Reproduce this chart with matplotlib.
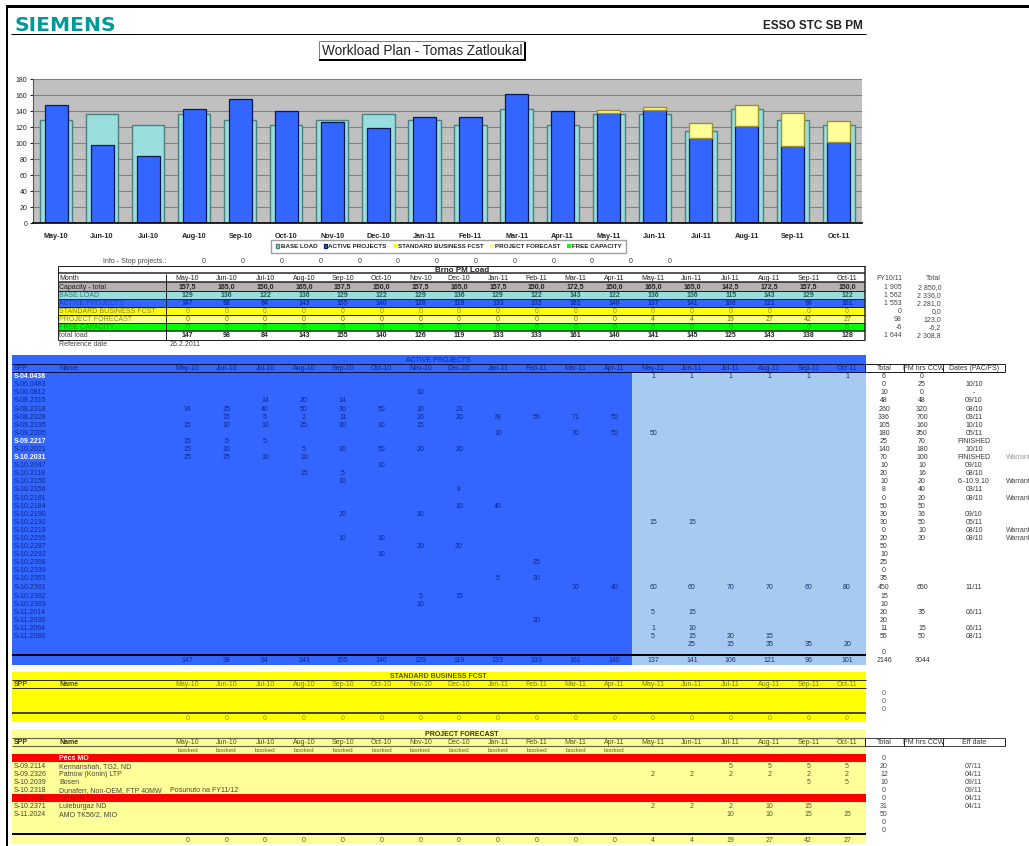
import matplotlib
matplotlib.use('Agg')
import matplotlib.pyplot as plt
from matplotlib.patches import Rectangle

plt.rcParams['font.family'] = ['Liberation Sans', 'DejaVu Sans']

## Data
months = ['May-10', 'Jun-10', 'Jul-10', 'Aug-10', 'Sep-10', 'Oct-10', 'Nov-10', 'Dec-10', 'Jan-11',
          'Feb-11', 'Mar-11', 'Apr-11', 'May-11', 'Jun-11', 'Jul-11', 'Aug-11', 'Sep-11', 'Oct-11']
capacity = ['157,5', '165,0', '150,0', '165,0', '157,5', '150,0', '157,5', '165,0', '157,5',
            '150,0', '172,5', '150,0', '165,0', '165,0', '142,5', '172,5', '157,5', '150,0']
base_load = [129, 136, 122, 136, 129, 122, 129, 136, 129, 122, 143, 122, 136, 136, 115, 143, 129, 122]
active_projects = [147, 98, 84, 143, 155, 140, 126, 119, 133, 133, 161, 140, 137, 141, 106, 121, 96, 101]
standard_fcst = [0] * 18
project_forecast = [0, 0, 0, 0, 0, 0, 0, 0, 0, 0, 0, 0, 4, 4, 19, 27, 42, 27]
free_capacity = [0, 0, 0, 0, 0, 0, 0, 0, 0, 0, 0, 0, 0, 0, 0, -6, 0, 0]
total_load = [147, 98, 84, 143, 155, 140, 126, 119, 133, 133, 161, 140, 141, 145, 125, 143, 138, 128]

fy_column = ['FY10/11', '1 905', '1 562', '1 553', '0', '98', '-6', '1 644']
total_column = ['Total', '2 850,0', '2 336,0', '2 281,0', '0,0', '123,0', '-6,2', '2 308,8']

active_spp = ['S-04.0438', 'S-06.0483', 'S-06.0812', 'S-08.2315', 'S-08.2318', 'S-08.2328', 'S-09.2195',
              'S-09.2205', 'S-09.2217', 'S-10.2021', 'S-10.2031', 'S-10.2047', 'S-10.2118', 'S-10.2150',
              'S-10.2156', 'S-10.2161', 'S-10.2184', 'S-10.2190', 'S-10.2192', 'S-10.2219', 'S-10.2255',
              'S-10.2287', 'S-10.2292', 'S-10.2308', 'S-10.2339', 'S-10.2353', 'S-10.2361', 'S-10.2362',
              'S-10.2363', 'S-11.2014', 'S-11.2036', 'S-11.2064', 'S-11.2086']
white_spp = ['S-04.0438', 'S-09.2217', 'S-10.2031']

_ = None
active_cells = [
    [_, _, _, _, _, _, _, _, _, _, _, _, 1, 1, 1, 1, 1, 1],
    [_] * 18,
    [_, _, _, _, _, _, 10, _, _, _, _, _, _, _, _, _, _, _],
    [_, _, 14, 20, 14, _, _, _, _, _, _, _, _, _, _, _, _, _],
    [34, 25, 40, 50, 30, 50, 10, 21, _, _, _, _, _, _, _, _, _, _],
    [_, 15, 5, 2, 11, _, 26, 20, 78, 56, 71, 50, _, _, _, _, _, _],
    [15, 10, 10, 25, 20, 10, 15, _, _, _, _, _, _, _, _, _, _, _],
    [_, _, _, _, _, _, _, _, 10, _, 70, 50, 50, _, _, _, _, _],
    [15, 5, 5, _, _, _, _, _, _, _, _, _, _, _, _, _, _, _],
    [15, 10, _, 5, 20, 50, 20, 20, _, _, _, _, _, _, _, _, _, _],
    [25, 25, 10, 10, _, _, _, _, _, _, _, _, _, _, _, _, _, _],
    [_, _, _, _, _, 10, _, _, _, _, _, _, _, _, _, _, _, _],
    [_, _, _, 15, 5, _, _, _, _, _, _, _, _, _, _, _, _, _],
    [_, _, _, _, 10, _, _, _, _, _, _, _, _, _, _, _, _, _],
    [_, _, _, _, _, _, _, 8, _, _, _, _, _, _, _, _, _, _],
    [_] * 18,
    [_, _, _, _, _, _, _, 10, 40, _, _, _, _, _, _, _, _, _],
    [_, _, _, _, 20, _, 10, _, _, _, _, _, _, _, _, _, _, _],
    [_, _, _, _, _, _, _, _, _, _, _, _, 15, 15, _, _, _, _],
    [_] * 18,
    [_, _, _, _, 10, 10, _, _, _, _, _, _, _, _, _, _, _, _],
    [_, _, _, _, _, _, 20, 30, _, _, _, _, _, _, _, _, _, _],
    [_, _, _, _, _, 10, _, _, _, _, _, _, _, _, _, _, _, _],
    [_, _, _, _, _, _, _, _, _, 25, _, _, _, _, _, _, _, _],
    [_] * 18,
    [_, _, _, _, _, _, _, _, 5, 30, _, _, _, _, _, _, _, _],
    [_, _, _, _, _, _, _, _, _, _, 10, 40, 60, 60, 70, 70, 60, 80],
    [_, _, _, _, _, _, 5, 15, _, _, _, _, _, _, _, _, _, _],
    [_, _, _, _, _, _, 10, _, _, _, _, _, _, _, _, _, _, _],
    [_, _, _, _, _, _, _, _, _, _, _, _, 5, 15, _, _, _, _],
    [_, _, _, _, _, _, _, _, _, 20, _, _, _, _, _, _, _, _],
    [_, _, _, _, _, _, _, _, _, _, _, _, 1, 10, _, _, _, _],
    [_, _, _, _, _, _, _, _, _, _, _, _, 5, 15, 20, 15, _, _],
    [_, _, _, _, _, _, _, _, _, _, _, _, _, 25, 15, 35, 35, 20],
]
active_total = [6, 0, 10, 48, 260, 336, 105, 180, 25, 140, 70, 10, 20, 10, 8, 0, 50, 30, 30, 0, 20,
                50, 10, 25, 0, 35, 450, 15, 10, 20, 20, 11, 55, _, 0]
active_pm_hours = [0, 25, 0, 48, 320, 700, 160, 350, 70, 180, 100, 10, 16, 20, 40, 20, 50, 36, 50, 10, 30,
                   _, _, _, _, _, 650, _, _, 35, _, 15, 50, _, _]
active_dates = [_, '10/10', '-', '09/10', '08/10', '03/11', '10/10', '05/11', 'FINISHED', '10/10', 'FINISHED',
                '09/10', '08/10', '6.-10.9.10', '03/11', '08/10', _, '09/10', '05/11', '08/10', '08/10',
                _, _, _, _, _, '11/11', _, _, '06/11', _, '06/11', '08/11', _, _]
warranty_spp = ['S-10.2031', 'S-10.2150', 'S-10.2161', 'S-10.2219', 'S-10.2255']

forecast_spp = ['S-09.2114', 'S-09.2326', 'S-10.2039', 'S-10.2318', 'S-10.2348', 'S-10.2371', 'S-11.2024']
forecast_names = ['Kermanshah, TG2, ND', 'Patnow (Konin) LTP', 'Bosen', 'Dunaferr, Non-OEM, FTP 40MW',
                  'Celsana LTP', 'Luleburgaz ND', 'AMO TK56/2, MIO']
forecast_cells = [
    [_, _, _, _, _, _, _, _, _, _, _, _, _, _, 5, 5, 5, 5],
    [_, _, _, _, _, _, _, _, _, _, _, _, 2, 2, 2, 2, 2, 2],
    [_, _, _, _, _, _, _, _, _, _, _, _, _, _, _, _, 5, 5],
    [_] * 18,
    [_] * 18,
    [_, _, _, _, _, _, _, _, _, _, _, _, 2, 2, 2, 10, 15, _],
    [_, _, _, _, _, _, _, _, _, _, _, _, _, _, 10, 10, 15, 15],
]
forecast_total = [0, 20, 12, 10, 0, 0, 31, 50, 0, 0]
forecast_dates = ['07/11', '04/11', '09/11', '09/11', '04/11', '04/11']

## Colors
BLUE = '#3366FF'
LIGHT_BLUE = '#A6CAF0'
TEAL = '#99DDDD'
YELLOW = '#FFFF00'
PALE = '#FFFF99'
RED = '#FF0000'
GREEN = '#00FF00'
GRAY = '#C0C0C0'
FS = 5

fig = plt.figure(figsize=(10.29, 8.46), dpi=100, facecolor='white')

# pixel canvas for everything that is a spreadsheet, y goes down
page = fig.add_axes([0, 0, 1, 1])
page.set_xlim(0, 1029)
page.set_ylim(846, 0)
page.axis('off')


def month_x(i):
    return 187.5 + 38.8 * i


def put(x, y, s, ha='center', color='#222222', size=FS, weight='normal', family=None):
    page.text(x, y + 0.7, str(s), ha=ha, va='center', color=color, fontsize=size, fontweight=weight, family=family)


def fill(x0, y0, x1, y1, color):
    page.add_patch(Rectangle((x0, y0), x1 - x0, y1 - y0, facecolor=color, edgecolor='none'))


def hline(y, x0=12, x1=866, px=1, color='#222222'):
    page.plot([x0, x1], [y, y], color=color, lw=px * 0.72, solid_capstyle='butt')


def vline(x, y0, y1, px=1, color='#222222'):
    page.plot([x, x], [y0, y1], color=color, lw=px * 0.72, solid_capstyle='butt')


def month_row(y, values, color='#222222', weight='normal', size=FS):
    for i, v in enumerate(values):
        if v is not None:
            put(month_x(i), y, v, color=color, weight=weight, size=size)


## Page head
fill(6, 5, 1029, 8, 'black')
fill(6, 5, 8, 846, 'black')
put(14, 24.5, 'SIEMENS', ha='left', color='#009999', size=14.6, weight='bold', family='DejaVu Sans')
hline(34, 11, 866, 1, 'black')
put(863, 25.5, 'ESSO STC SB PM', ha='right', color='#222222', size=8.5, weight='bold')

page.add_patch(Rectangle((319, 41), 205, 19, facecolor='white', edgecolor='#666666', lw=0.6))
hline(60.5, 319, 526, 2, 'black')
vline(525, 42, 61, 2, 'black')
put(422, 50.5, 'Workload Plan - Tomas Zatloukal', size=9.8, color='#222222')

## Chart
ax = fig.add_axes([33 / 1029, 1 - 223 / 846, 829 / 1029, 144 / 846], facecolor=GRAY)
x = list(range(len(months)))
ax.set_axisbelow(True)
ax.grid(axis='y', color='#808080', lw=0.8)
ax.bar(x, base_load, width=0.7, color=TEAL, edgecolor='#4A8080', lw=1.0, label='BASE LOAD')
ax.bar(x, active_projects, width=0.5, color=BLUE, edgecolor='#0A1A50', lw=0.9, label='ACTIVE PROJECTS')
stack = [a + s for a, s in zip(active_projects, standard_fcst)]
ax.bar(x, standard_fcst, width=0.5, bottom=active_projects, color=YELLOW, edgecolor='#A09030', lw=0,
       label='STANDARD BUSINESS FCST')
ax.bar(x, project_forecast, width=0.5, bottom=stack, color=PALE, edgecolor='#A09030',
       lw=[1.0 if v else 0 for v in project_forecast], label='PROJECT FORECAST')
ax.bar(x, free_capacity, width=0.5, color=GREEN, edgecolor='none', label='FREE CAPACITY')
ax.set_xlim(-0.5, 17.5)
ax.set_ylim(0, 180)
ax.set_yticks(range(0, 181, 20))
ax.set_xticks(x)
ax.set_xticklabels(months, fontweight='bold')
ax.tick_params(axis='x', length=0, labelsize=5.2, pad=7, colors='#222222')
ax.tick_params(axis='y', length=2, labelsize=5, pad=2, colors='#222222')
for side in ['top', 'right']:
    ax.spines[side].set_visible(False)
ax.spines['left'].set_color('#555555')
ax.spines['bottom'].set_color('black')
ax.spines['bottom'].set_linewidth(1.2)
leg = fig.legend(loc='center', bbox_to_anchor=(448.5 / 1029, 1 - 246.5 / 846), ncols=5,
                 frameon=True, fancybox=False, edgecolor='#888888', handlelength=0.6, handleheight=0.6,
                 handletextpad=0.2, columnspacing=1.0, borderpad=0.7,
                 prop={'size': 4.5, 'weight': 'bold'})
for text in leg.get_texts():
    text.set_color('#222222')

## Brno PM Load
put(166, 261, 'Info - Stop projects.:', ha='right', color='#444444')
for i in range(13):
    put(204 + 38.8 * i, 261, 0, color='#333333')

brno_rows = [(282, 291, '#B8B0B0'), (291, 299, TEAL), (299, 307, BLUE), (307, 315, YELLOW),
             (315, 323, PALE), (323, 331, GREEN)]
for y0, y1, color in brno_rows:
    fill(59, y0, 865, y1, color)
for y, px in [(266, 1), (273.5, 1.5), (282, 1.5), (291, 1), (299, 1), (307, 1), (315, 1), (323, 1), (331, 1.5), (340, 1)]:
    hline(y, 58, 865, px)
vline(58, 266, 340)
vline(166, 274, 340)
vline(865, 266, 340, 1.5)
put(462, 269.3, 'Brno PM Load', size=5.8, weight='bold')

put(59, 278, 'Month', ha='left')
put(59, 287, 'Capacity - total', ha='left')
put(59, 295, 'BASE LOAD', ha='left', color='#2F8080')
put(59, 303, 'ACTIVE PROJECTS', ha='left', color='#1A3FC0')
put(59, 311, 'STANDARD BUSINESS FCST', ha='left', color='#8A8A00')
put(59, 319, 'PROJECT FORECAST', ha='left', color='#8A8A20')
put(59, 327, 'FREE CAPACITY', ha='left', color='#00A000')
put(59, 335, 'total load', ha='left', color='#444444')
put(59, 344, 'Reference date', ha='left', color='#444444')
put(170, 344, '26.2.2011', ha='left', color='#444444')

month_row(278, months)
month_row(287, capacity, weight='bold')
month_row(295, base_load, weight='bold', color='#1F5F5F')
month_row(303, active_projects, color='#1030A0', weight='bold')
month_row(311, standard_fcst, color='#A09000')
month_row(319, project_forecast, color='#706800')
for i, v in enumerate(free_capacity):
    put(month_x(i), 327, v, color='#B0A000' if v else '#00A000')
month_row(335, total_load, weight='bold')

for i, y in enumerate([278, 287, 295, 303, 311, 319, 327, 335]):
    put(902, y, fy_column[i], ha='right', color='#444444')
    put(941, y, total_column[i], ha='right', color='#444444')

## Active projects
fill(12, 355, 632, 665, BLUE)
fill(632, 355, 866, 373, BLUE)
fill(632, 373, 866, 665, LIGHT_BLUE)
hline(364, 12, 866, 1, '#101040')
hline(372.5, 12, 866, 1, '#101040')
hline(655.5, 12, 866, 2, 'black')
NAVY = '#0A2A90'
put(438, 359.5, 'ACTIVE PROJECTS', color=NAVY)
put(14, 367.5, 'SPP', ha='left', color=NAVY)
put(59, 367.5, 'Name', ha='left', color=NAVY)
month_row(367.5, months, color=NAVY)


def active_y(row):
    return 376 + 8.09 * row + (1 if row > 26 else 0)


for row, spp in enumerate(active_spp):
    if spp in white_spp:
        put(14, active_y(row), spp, ha='left', color='white', weight='bold')
    else:
        put(14, active_y(row), spp, ha='left', color=NAVY)
    if spp in warranty_spp:
        # the reference cuts the word at the page edge
        put(1006, active_y(row), 'Warrant', ha='left', color='#999999' if spp == 'S-10.2031' else '#444444')

for row, cells in enumerate(active_cells):
    for i, v in enumerate(cells):
        if v is not None:
            put(month_x(i), active_y(row), v, color=NAVY if i < 12 else '#1A2F70')

for i, v in enumerate(active_projects):
    put(month_x(i), 660, v, color=NAVY if i < 12 else '#1A2F70')

hline(364, 865, 1005, 1, '#222222')
hline(372.5, 865, 1005, 1, '#222222')
for vx in [865, 904, 943, 1005]:
    vline(vx, 364, 372.5)
put(884, 367.5, 'Total', color='#333333')
put(923.5, 367.5, 'PM hrs CCW', color='#333333')
put(974, 367.5, 'Dates (PAC/FS)', color='#333333')
for row in range(len(active_total)):
    if active_total[row] is not None:
        put(884, active_y(row), active_total[row], color='#333333')
    if active_pm_hours[row] is not None:
        put(922, active_y(row), active_pm_hours[row], color='#333333')
    if active_dates[row] is not None:
        put(974, active_y(row), active_dates[row], color='#333333')
put(884, 660, 2146, color='#333333')
put(922, 660, 3044, color='#333333')

## Standard business forecast
fill(12, 672, 866, 722, YELLOW)
hline(680, 12, 866, 1, '#303000')
hline(688.5, 12, 866, 1, '#303000')
hline(713, 12, 866, 1.5, '#101000')
put(438, 676, 'STANDARD BUSINESS FCST', color='#555500', weight='bold')
put(14, 684, 'SPP', ha='left', color='#555500', weight='bold')
put(59, 684, 'Name', ha='left', color='#555500', weight='bold')
month_row(684, months, color='#808000')
month_row(718, standard_fcst, color='#A09000')
for y in [693, 701, 709]:
    put(884, y, 0, color='#555555')

## Project forecast
fill(12, 729, 866, 844, PALE)
fill(12, 754, 866, 762, RED)
fill(12, 794, 866, 802, RED)
hline(738, 12, 866, 1.2, '#666650')
hline(746, 12, 866, 1.2, '#666650')
hline(834.5, 12, 866, 2, 'black')
put(462, 733.5, 'PROJECT FORECAST', color='#333300', weight='bold')
put(14, 741.5, 'SPP', ha='left', color='#333300', weight='bold')
put(59, 741.5, 'Name', ha='left', color='#333300', weight='bold')
month_row(741.5, months, color='#555500')
month_row(750, ['booked'] * 12, color='#666600', size=4.6)
put(59, 757.5, 'Pécs MO', ha='left', color='white', weight='bold')

for row in range(len(forecast_spp)):
    y = 766 + 8 * row
    row_color = '#AA1100' if forecast_spp[row] == 'S-10.2348' else '#444433'
    put(14, y, forecast_spp[row], ha='left', color=row_color)
    put(59, y, forecast_names[row], ha='left', color=row_color)
    month_row(y, forecast_cells[row], color='#555533')
put(170, 790, 'Posunuto na FY11/12', ha='left', color='#444433')
month_row(839.5, project_forecast, color='#555533')

fill(865, 738, 1005, 746, 'white')
hline(738, 865, 1005, 1, '#444444')
hline(746, 865, 1005, 1, '#444444')
for vx in [865, 904, 943, 1005]:
    vline(vx, 738, 746)
put(884, 741.5, 'Total', color='#333333')
put(923.5, 741.5, 'PM hrs CCW', color='#333333')
put(974, 741.5, 'Eff date', color='#333333')
for row, v in enumerate(forecast_total):
    put(884, 758 + 8 * row, v, color='#444444')
for row, v in enumerate(forecast_dates):
    put(973, 766 + 8 * row, v, color='#444444')

fig.savefig('out.png', dpi=100)
